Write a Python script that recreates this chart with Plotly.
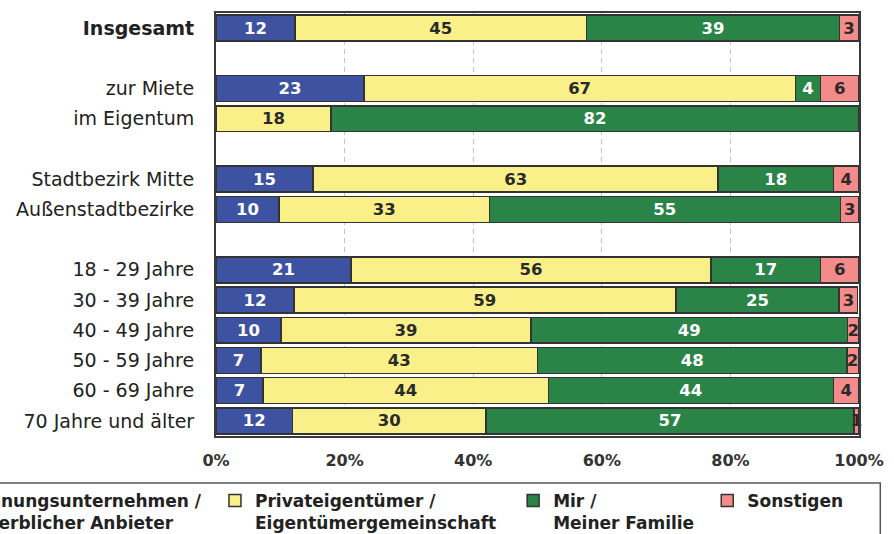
import plotly.graph_objects as go

# Row labels (top to bottom); blank strings are spacer rows
categories = ["Insgesamt", " ", "zur Miete", "im Eigentum", "  ",
              "Stadtbezirk Mitte", "Außenstadtbezirke", "   ",
              "18 - 29 Jahre", "30 - 39 Jahre", "40 - 49 Jahre",
              "50 - 59 Jahre", "60 - 69 Jahre", "70 Jahre und älter"]
tick_labels = ["<b>Insgesamt</b>", " ", "zur Miete", "im Eigentum", "  ",
               "Stadtbezirk Mitte", "Außenstadtbezirke", "   ",
               "18 - 29 Jahre", "30 - 39 Jahre", "40 - 49 Jahre",
               "50 - 59 Jahre", "60 - 69 Jahre", "70 Jahre und älter"]

# Shares in percent (labels show rounded values)
wohnungsunternehmen = [12.3, None, 23.0, None, None, 15.1, 9.8, None, 21.0, 12.1, 10.1, 7.0, 7.3, 11.9]
privateigentuemer = [45.3, None, 67.1, 17.9, None, 63.0, 32.7, None, 56.0, 59.4, 38.9, 43.0, 44.4, 30.1]
mir_familie = [39.4, None, 3.9, 82.1, None, 17.9, 54.6, None, 17.0, 25.4, 49.2, 48.1, 44.3, 57.2]
sonstigen = [2.9, None, 6.0, None, None, 4.0, 2.9, None, 6.0, 2.9, 1.8, 1.8, 4.0, 0.8]

series_names = ["Wohnungsunternehmen /<br>gewerblicher Anbieter",
                "Privateigentümer /<br>Eigentümergemeinschaft",
                "Mir /<br>Meiner Familie",
                "Sonstigen"]
x_ticks = [0, 20, 40, 60, 80, 100]
x_tick_labels = ["0%", "20%", "40%", "60%", "80%", "100%"]

colors = ["#3E52A2", "#FAF08A", "#2A8448", "#F38B8B"]
text_colors = ["white", "#2a2a2a", "white", "#2a2a2a"]
legend_ids = ["legend", "legend2", "legend3", "legend4"]
legend_x = [-0.4618, -0.0016, 0.4621, 0.7640]
FONT = "DejaVu Sans"

fig = go.Figure()
for vals, name, col, tcol, lg in zip(
        [wohnungsunternehmen, privateigentuemer, mir_familie, sonstigen],
        series_names, colors, text_colors, legend_ids):
    fig.add_trace(go.Bar(
        y=categories, x=vals, name=name, orientation="h",
        marker=dict(color=col, line=dict(color="#333333", width=1.5)),
        texttemplate="%{x:.0f}", textposition="inside",
        insidetextanchor="middle", textangle=0,
        textfont=dict(family=FONT, size=16.5, color=tcol, weight="bold"),
        legend=lg, hoverinfo="skip", cliponaxis=False,
    ))

legend_layout = {}
for lg, lx in zip(legend_ids, legend_x):
    legend_layout[lg] = dict(
        orientation="h", x=lx, xanchor="left", y=-0.111, yanchor="top",
        valign="top", bgcolor="rgba(0,0,0,0)", borderwidth=0,
        font=dict(family=FONT, size=17, color="#222222", weight="bold"))

fig.update_layout(
    width=894, height=534,
    barmode="stack", bargap=0.14,
    margin=dict(l=216, r=35, t=13, b=98, autoexpand=False),
    paper_bgcolor="white", plot_bgcolor="white",
    font=dict(family=FONT, color="#222222"),
    uniformtext=dict(minsize=16.5, mode="show"),
    xaxis=dict(range=[0, 100], tickvals=x_ticks, ticktext=x_tick_labels,
               showgrid=True, gridcolor="#c4c4c4", gridwidth=1, griddash="5px,4px",
               zeroline=False, showline=True, mirror=True,
               linecolor="#3a3a3a", linewidth=2,
               ticks="", ticklabelstandoff=9,
               tickfont=dict(family=FONT, size=16, color="#333333", weight="bold"),
               fixedrange=True),
    yaxis=dict(categoryorder="array", categoryarray=categories,
               tickvals=categories, ticktext=tick_labels,
               autorange="reversed", showgrid=False, zeroline=False,
               showline=True, mirror=True, linecolor="#3a3a3a", linewidth=2,
               ticks="", ticklabelstandoff=16,
               tickfont=dict(family=FONT, size=19, color="#222222"),
               fixedrange=True),
    shapes=[dict(type="rect", xref="paper", yref="paper",
                 x0=-1.0, x1=1.0331, y0=-0.111, y1=-0.6,
                 line=dict(color="#555555", width=1.5), fillcolor="white",
                 layer="below")],
    showlegend=True,
    **legend_layout,
)

fig.write_html("out.html")
